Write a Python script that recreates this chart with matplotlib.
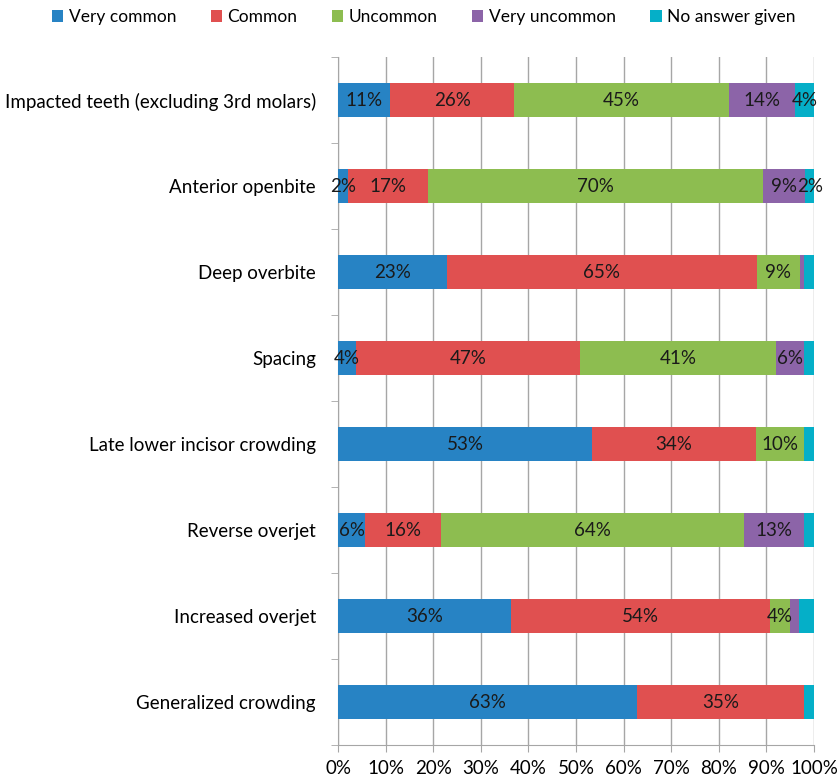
import matplotlib.pyplot as plt
import numpy as np

plt.rcParams['font.family'] = ['Lato', 'DejaVu Sans']

categories = ['Impacted teeth (excluding 3rd molars)', 'Anterior openbite', 'Deep overbite',
              'Spacing', 'Late lower incisor crowding', 'Reverse overjet',
              'Increased overjet', 'Generalized crowding']
series = ['Very common', 'Common', 'Uncommon', 'Very uncommon', 'No answer given']
colors = ['#2783c4', '#e05050', '#8dbd50', '#8c64a8', '#05afc8']

very_common   = [11.0, 2.0, 22.8, 3.8, 53.4, 5.7, 36.4, 62.9]
common        = [26.0, 17.0, 65.2, 47.1, 34.4, 15.9, 54.4, 35.1]
uncommon      = [45.1, 70.3, 9.0, 41.2, 10.2, 63.7, 4.1, 0.0]
very_uncommon = [14.0, 8.9, 1.0, 5.9, 0.0, 12.7, 2.0, 0.0]
no_answer     = [3.9, 1.8, 2.0, 2.0, 2.0, 2.0, 3.1, 2.0]

# which segment labels are shown (per series, per category)
show = [[1, 1, 1, 1, 1, 1, 1, 1],
        [1, 1, 1, 1, 1, 1, 1, 1],
        [1, 1, 1, 1, 1, 1, 1, 0],
        [1, 1, 0, 1, 0, 1, 0, 0],
        [1, 1, 0, 0, 0, 0, 0, 0]]

data = np.array([very_common, common, uncommon, very_uncommon, no_answer])
y = np.arange(len(categories))[::-1]
fs = 13.5

fig = plt.figure(figsize=(8.39, 7.82), dpi=100)
ax = fig.add_axes([338/839, 1 - 745/782, (814-338)/839, (745-57)/782])

left = np.zeros(len(categories))
for i, name in enumerate(series):
    bars = ax.barh(y, data[i], 0.39, left=left, color=colors[i], label=name, zorder=3)
    for j, rect in enumerate(bars):
        if show[i][j]:
            ax.text(left[j] + data[i][j] / 2, y[j], '{:.0f}%'.format(data[i][j]),
                    ha='center', va='center', fontsize=fs, color='#1a1a1a', zorder=4)
    left += data[i]

ax.set_xlim(0, 100)
ax.set_ylim(-0.5, len(categories) - 0.5)
ax.set_xticks(np.arange(0, 101, 10))
ax.set_xticklabels(['{}%'.format(v) for v in range(0, 101, 10)], fontsize=fs)
ax.grid(axis='x', color='#a6a6a6', linewidth=1)
ax.set_axisbelow(True)

ax.set_yticks(y)
ax.set_yticklabels(categories, fontsize=fs)
ax.set_yticks(np.arange(-0.5, len(categories), 1), minor=True)
ax.tick_params(axis='y', which='major', length=0, pad=16)
ax.tick_params(axis='y', which='minor', length=5, color='#a6a6a6')
ax.tick_params(axis='x', length=5, color='#a6a6a6', pad=6)

for s in ['top', 'right']:
    ax.spines[s].set_visible(False)
for s in ['left', 'bottom']:
    ax.spines[s].set_color('#a6a6a6')

fig.legend(loc='upper center', bbox_to_anchor=(0.505, 1.008), ncol=5, frameon=False,
           fontsize=12.5, handlelength=0.65, handleheight=0.65, handletextpad=0.3,
           columnspacing=2.0)

plt.savefig('out.png', dpi=100)
